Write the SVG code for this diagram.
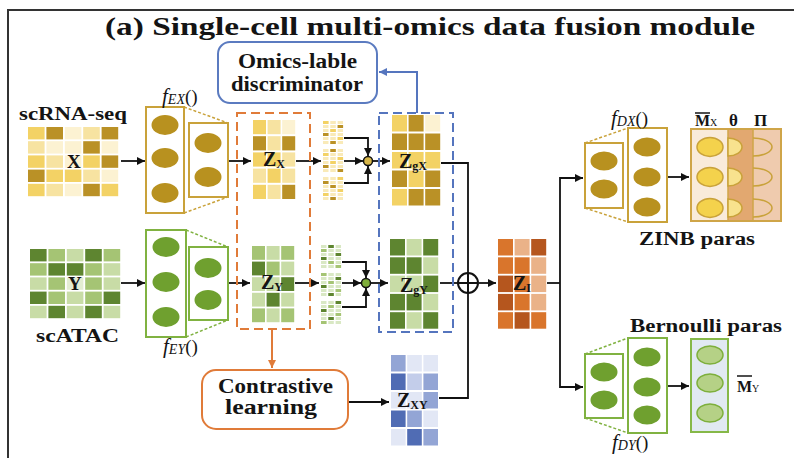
<svg xmlns="http://www.w3.org/2000/svg" width="794" height="458" viewBox="0 0 794 458">
<defs>
<style>
.t{font-family:"Liberation Serif","Times New Roman",serif;font-weight:bold;fill:#141414}
.fn{font-family:"Liberation Serif","Times New Roman",serif;fill:#141414}
.it{font-style:italic}
.sub{font-size:12px}
.zl{font-size:20px}
.c{fill:none;stroke:#111;stroke-width:1.8}
.ca{fill:none;stroke:#111;stroke-width:1.8;marker-end:url(#ah)}
.y1{fill:#FCF2D2}.y2{fill:#F7E3A1}.y3{fill:#F3D265}.y4{fill:#BA9126}
.g1{fill:#E3EDD2}.g2{fill:#C8DCA6}.g3{fill:#A5C474}.g4{fill:#5E8530}
.b1{fill:#E2E7F5}.b2{fill:#C3CDEA}.b3{fill:#93A5D5}.b4{fill:#506CB4}
.o1{fill:#EAB288}.o2{fill:#D9752C}.o3{fill:#B5561E}
.boxY{fill:#fff;stroke:#C9A23A;stroke-width:2}
.boxG{fill:#fff;stroke:#80B241;stroke-width:2}
.dY{stroke:#C9A23A;stroke-width:1.5;stroke-dasharray:3 2;fill:none}
.dG{stroke:#80B241;stroke-width:1.5;stroke-dasharray:3 2;fill:none}
.eY{fill:#B8911F}
.eG{fill:#6FA02F}
.frame{fill:none;stroke:#333;stroke-width:2}
</style>
<marker id="ah" viewBox="0 0 10 10" refX="10" refY="5" markerWidth="9" markerHeight="8" markerUnits="userSpaceOnUse" orient="auto"><path d="M0,0 L10,5 L0,10 z" fill="#111"/></marker>
<marker id="aho" viewBox="0 0 10 10" refX="10" refY="5" markerWidth="9" markerHeight="8" markerUnits="userSpaceOnUse" orient="auto"><path d="M0,0 L10,5 L0,10 z" fill="#E07B39"/></marker>
<marker id="ahb" viewBox="0 0 10 10" refX="10" refY="5" markerWidth="9" markerHeight="8" markerUnits="userSpaceOnUse" orient="auto"><path d="M0,0 L10,5 L0,10 z" fill="#5575BE"/></marker>
<pattern id="pX" x="323" y="121" width="7.3" height="4" patternUnits="userSpaceOnUse"><rect width="5.5" height="3" fill="#F9EAB8"/></pattern>
<pattern id="pY" x="321" y="245" width="7.3" height="4" patternUnits="userSpaceOnUse"><rect width="5.5" height="3" fill="#D9E8C4"/></pattern>
</defs>

<rect width="794" height="458" fill="#fff"/>
<path class="frame" d="M8,458 V10 H794"/>
<text class="t" x="105" y="35" font-size="25" textLength="650" lengthAdjust="spacingAndGlyphs">(a) Single-cell multi-omics data fusion module</text>

<g id="connectors">
<path class="ca" d="M121,161 H145"/>
<path class="ca" d="M228,161 H251"/>
<path class="ca" d="M296,161 H321"/>
<path class="ca" d="M344,138 H368 V156"/>
<path class="ca" d="M344,161 H363"/>
<path class="ca" d="M344,183 H368 V166"/>
<path class="ca" d="M372,161 H390"/>
<path class="c" d="M441,163 H468 V398 H439"/>
<path class="c" d="M440,283 H458"/>
<path class="ca" d="M479,283 H496"/>
<path class="c" d="M547,283 H560"/>
<path class="ca" d="M560,283 V178 H583"/>
<path class="ca" d="M560,283 V387 H583"/>
<path class="ca" d="M667,177 H689"/>
<path class="ca" d="M667,386 H689"/>
<path class="ca" d="M121,283 H145"/>
<path class="ca" d="M228,283 H250"/>
<path class="ca" d="M295,283 H319"/>
<path class="ca" d="M342,262 H366 V278"/>
<path class="ca" d="M342,283 H361"/>
<path class="ca" d="M342,307 H366 V288"/>
<path class="ca" d="M370,283 H388"/>
<path d="M272,329 V368" fill="none" stroke="#E07B39" stroke-width="2" marker-end="url(#aho)"/>
<path class="ca" d="M348,402 H389"/>
<path d="M417,113 V72 H379" fill="none" stroke="#5575BE" stroke-width="2" marker-end="url(#ahb)"/>
</g>

<g id="discriminator">
<rect x="218" y="42" width="159" height="61" rx="12" fill="#fff" stroke="#5B7BC0" stroke-width="2"/>
<text class="t" x="238" y="68" font-size="20" textLength="119" lengthAdjust="spacingAndGlyphs">Omics-lable</text>
<text class="t" x="231" y="91" font-size="20" textLength="132" lengthAdjust="spacingAndGlyphs">discriminator</text>
</g>

<g id="scRNA">
<text class="t" x="19" y="120" font-size="18" textLength="108" lengthAdjust="spacingAndGlyphs">scRNA-seq</text>
<g transform="translate(28,127)">
<rect class="y3" x="0" y="0" width="16.6" height="12.4"/><rect class="y4" x="18.4" y="0" width="16.6" height="12.4"/><rect class="y1" x="36.8" y="0" width="16.6" height="12.4"/><rect class="y2" x="55.2" y="0" width="16.6" height="12.4"/><rect class="y4" x="73.6" y="0" width="16.6" height="12.4"/>
<rect class="y2" x="0" y="14.2" width="16.6" height="12.4"/><rect class="y1" x="18.4" y="14.2" width="16.6" height="12.4"/><rect class="y1" x="36.8" y="14.2" width="16.6" height="12.4"/><rect class="y4" x="55.2" y="14.2" width="16.6" height="12.4"/><rect class="y1" x="73.6" y="14.2" width="16.6" height="12.4"/>
<rect class="y3" x="0" y="28.4" width="16.6" height="12.4"/><rect class="y2" x="18.4" y="28.4" width="16.6" height="12.4"/><rect class="y1" x="36.8" y="28.4" width="16.6" height="12.4"/><rect class="y3" x="55.2" y="28.4" width="16.6" height="12.4"/><rect class="y4" x="73.6" y="28.4" width="16.6" height="12.4"/>
<rect class="y4" x="0" y="42.6" width="16.6" height="12.4"/><rect class="y3" x="18.4" y="42.6" width="16.6" height="12.4"/><rect class="y3" x="36.8" y="42.6" width="16.6" height="12.4"/><rect class="y2" x="55.2" y="42.6" width="16.6" height="12.4"/><rect class="y1" x="73.6" y="42.6" width="16.6" height="12.4"/>
<rect class="y3" x="0" y="56.8" width="16.6" height="12.4"/><rect class="y2" x="18.4" y="56.8" width="16.6" height="12.4"/><rect class="y1" x="36.8" y="56.8" width="16.6" height="12.4"/><rect class="y4" x="55.2" y="56.8" width="16.6" height="12.4"/><rect class="y3" x="73.6" y="56.8" width="16.6" height="12.4"/>
</g>
<text class="t" x="67" y="168" font-size="19">X</text>
</g>

<g id="scATAC">
<g transform="translate(30,249)">
<rect class="g4" x="0" y="0" width="16.6" height="12.4"/><rect class="g3" x="18.4" y="0" width="16.6" height="12.4"/><rect class="g2" x="36.8" y="0" width="16.6" height="12.4"/><rect class="g4" x="55.2" y="0" width="16.6" height="12.4"/><rect class="g3" x="73.6" y="0" width="16.6" height="12.4"/>
<rect class="g3" x="0" y="14.2" width="16.6" height="12.4"/><rect class="g4" x="18.4" y="14.2" width="16.6" height="12.4"/><rect class="g4" x="36.8" y="14.2" width="16.6" height="12.4"/><rect class="g3" x="55.2" y="14.2" width="16.6" height="12.4"/><rect class="g2" x="73.6" y="14.2" width="16.6" height="12.4"/>
<rect class="g2" x="0" y="28.4" width="16.6" height="12.4"/><rect class="g3" x="18.4" y="28.4" width="16.6" height="12.4"/><rect class="g1" x="36.8" y="28.4" width="16.6" height="12.4"/><rect class="g3" x="55.2" y="28.4" width="16.6" height="12.4"/><rect class="g2" x="73.6" y="28.4" width="16.6" height="12.4"/>
<rect class="g4" x="0" y="42.6" width="16.6" height="12.4"/><rect class="g3" x="18.4" y="42.6" width="16.6" height="12.4"/><rect class="g2" x="36.8" y="42.6" width="16.6" height="12.4"/><rect class="g3" x="55.2" y="42.6" width="16.6" height="12.4"/><rect class="g4" x="73.6" y="42.6" width="16.6" height="12.4"/>
<rect class="g2" x="0" y="56.8" width="16.6" height="12.4"/><rect class="g4" x="18.4" y="56.8" width="16.6" height="12.4"/><rect class="g2" x="36.8" y="56.8" width="16.6" height="12.4"/><rect class="g4" x="55.2" y="56.8" width="16.6" height="12.4"/><rect class="g2" x="73.6" y="56.8" width="16.6" height="12.4"/>
</g>
<text class="t" x="68" y="290" font-size="19">Y</text>
<text class="t" x="36" y="342" font-size="18" textLength="83" lengthAdjust="spacingAndGlyphs">scATAC</text>
</g>

<g id="encoderX">
<rect class="boxY" x="146" y="107" width="38" height="106"/>
<ellipse class="eY" cx="165" cy="125" rx="13.5" ry="10"/><ellipse class="eY" cx="165" cy="158" rx="13.5" ry="10"/><ellipse class="eY" cx="165" cy="193" rx="13.5" ry="10"/>
<rect class="boxY" x="189" y="123" width="39" height="74"/>
<ellipse class="eY" cx="208" cy="143" rx="13.5" ry="10"/><ellipse class="eY" cx="208" cy="177" rx="13.5" ry="10"/>
<path class="dY" d="M184,107 L228,123 M184,213 L228,197"/>
<text class="fn" x="162" y="103"><tspan class="it" font-size="21">f</tspan><tspan class="it" font-size="14" dy="1">EX</tspan><tspan font-size="19" dy="-1">()</tspan></text>
</g>

<g id="encoderY">
<rect class="boxG" x="146" y="230" width="40" height="107"/>
<ellipse class="eG" cx="166" cy="247" rx="13.5" ry="10"/><ellipse class="eG" cx="166" cy="282" rx="13.5" ry="10"/><ellipse class="eG" cx="166" cy="317" rx="13.5" ry="10"/>
<rect class="boxG" x="189" y="247" width="39" height="73"/>
<ellipse class="eG" cx="208" cy="268" rx="13.5" ry="10"/><ellipse class="eG" cx="208" cy="300" rx="13.5" ry="10"/>
<path class="dG" d="M186,230 L228,247 M186,337 L228,320"/>
<text class="fn" x="163" y="353"><tspan class="it" font-size="21">f</tspan><tspan class="it" font-size="14" dy="1">EY</tspan><tspan font-size="19" dy="-1">()</tspan></text>
</g>

<g id="orangeGroup">
<rect x="237" y="113" width="73" height="216" fill="none" stroke="#E07B39" stroke-width="2" stroke-dasharray="9 5"/>
</g>

<g id="ZX">
<g transform="translate(253,120)">
<rect class="y3" x="0" y="0" width="13" height="14.2"/><rect class="y2" x="14.6" y="0" width="13" height="14.2"/><rect class="y1" x="29.2" y="0" width="13" height="14.2"/>
<rect class="y4" x="0" y="16.2" width="13" height="14.2"/><rect class="y2" x="14.6" y="16.2" width="13" height="14.2"/><rect class="y4" x="29.2" y="16.2" width="13" height="14.2"/>
<rect class="y3" x="0" y="32.4" width="13" height="14.2"/><rect class="y3" x="14.6" y="32.4" width="13" height="14.2"/><rect class="y2" x="29.2" y="32.4" width="13" height="14.2"/>
<rect class="y2" x="0" y="48.6" width="13" height="14.2"/><rect class="y3" x="14.6" y="48.6" width="13" height="14.2"/><rect class="y2" x="29.2" y="48.6" width="13" height="14.2"/>
<rect class="y3" x="0" y="64.8" width="13" height="14.2"/><rect class="y2" x="14.6" y="64.8" width="13" height="14.2"/><rect class="y4" x="29.2" y="64.8" width="13" height="14.2"/>
</g>
<text class="t zl" x="263" y="166">Z<tspan class="sub" dy="2">X</tspan></text>
</g>

<g id="ZY">
<g transform="translate(252,246)">
<rect class="g3" x="0" y="0" width="13" height="13.8"/><rect class="g2" x="14.6" y="0" width="13" height="13.8"/><rect class="g3" x="29.2" y="0" width="13" height="13.8"/>
<rect class="g4" x="0" y="15.6" width="13" height="13.8"/><rect class="g3" x="14.6" y="15.6" width="13" height="13.8"/><rect class="g2" x="29.2" y="15.6" width="13" height="13.8"/>
<rect class="g2" x="0" y="31.2" width="13" height="13.8"/><rect class="g2" x="14.6" y="31.2" width="13" height="13.8"/><rect class="g4" x="29.2" y="31.2" width="13" height="13.8"/>
<rect class="g2" x="0" y="46.8" width="13" height="13.8"/><rect class="g4" x="14.6" y="46.8" width="13" height="13.8"/><rect class="g2" x="29.2" y="46.8" width="13" height="13.8"/>
<rect class="g3" x="0" y="62.4" width="13" height="13.8"/><rect class="g2" x="14.6" y="62.4" width="13" height="13.8"/><rect class="g3" x="29.2" y="62.4" width="13" height="13.8"/>
</g>
<text class="t zl" x="261" y="289">Z<tspan class="sub" dy="2">Y</tspan></text>
</g>

<g id="stripesX">
<rect x="323" y="121" width="20.2" height="24" fill="url(#pX)"/><rect x="323" y="149" width="20.2" height="24" fill="url(#pX)"/><rect x="323" y="177" width="20.2" height="24" fill="url(#pX)"/>
<rect class="y3" x="323" y="121" width="5.5" height="3"/><rect class="y4" x="337.6" y="125" width="5.5" height="3"/><rect class="y3" x="330.3" y="129" width="5.5" height="3"/><rect class="y4" x="323" y="133" width="5.5" height="3"/><rect class="y3" x="337.6" y="137" width="5.5" height="3"/><rect class="y4" x="330.3" y="141" width="5.5" height="3"/>
<rect class="y4" x="330.3" y="149" width="5.5" height="3"/><rect class="y3" x="323" y="153" width="5.5" height="3"/><rect class="y3" x="337.6" y="157" width="5.5" height="3"/><rect class="y3" x="330.3" y="161" width="5.5" height="3"/><rect class="y4" x="323" y="165" width="5.5" height="3"/><rect class="y4" x="337.6" y="169" width="5.5" height="3"/>
<rect class="y3" x="337.6" y="177" width="5.5" height="3"/><rect class="y4" x="323" y="181" width="5.5" height="3"/><rect class="y4" x="330.3" y="185" width="5.5" height="3"/><rect class="y3" x="337.6" y="189" width="5.5" height="3"/><rect class="y3" x="323" y="193" width="5.5" height="3"/><rect class="y4" x="330.3" y="197" width="5.5" height="3"/>
</g>

<g id="stripesY">
<rect x="321" y="245" width="20.2" height="24" fill="url(#pY)"/><rect x="321" y="273" width="20.2" height="24" fill="url(#pY)"/><rect x="321" y="301" width="20.2" height="24" fill="url(#pY)"/>
<rect class="g4" x="328.3" y="245" width="5.5" height="3"/><rect class="g3" x="321" y="249" width="5.5" height="3"/><rect class="g4" x="335.6" y="253" width="5.5" height="3"/><rect class="g4" x="321" y="257" width="5.5" height="3"/><rect class="g3" x="328.3" y="261" width="5.5" height="3"/><rect class="g3" x="335.6" y="265" width="5.5" height="3"/>
<rect class="g3" x="321" y="273" width="5.5" height="3"/><rect class="g4" x="335.6" y="277" width="5.5" height="3"/><rect class="g3" x="328.3" y="281" width="5.5" height="3"/><rect class="g4" x="321" y="285" width="5.5" height="3"/><rect class="g3" x="335.6" y="289" width="5.5" height="3"/><rect class="g4" x="328.3" y="293" width="5.5" height="3"/>
<rect class="g4" x="335.6" y="301" width="5.5" height="3"/><rect class="g3" x="328.3" y="305" width="5.5" height="3"/><rect class="g4" x="321" y="309" width="5.5" height="3"/><rect class="g3" x="335.6" y="313" width="5.5" height="3"/><rect class="g4" x="328.3" y="317" width="5.5" height="3"/><rect class="g3" x="321" y="321" width="5.5" height="3"/>
</g>

<g id="gateX"><circle cx="368" cy="161" r="4.5" fill="#D9B84A" stroke="#111" stroke-width="1.5"/></g>
<g id="gateY"><circle cx="366" cy="283" r="4.5" fill="#7FAE3A" stroke="#111" stroke-width="1.5"/></g>

<g id="blueGroup">
<rect x="379" y="113" width="74" height="219" fill="none" stroke="#5575BE" stroke-width="2" stroke-dasharray="9 5"/>
</g>

<g id="ZgX">
<g transform="translate(392,115)">
<rect class="y3" x="0" y="0" width="15" height="16.5"/><rect class="y4" x="16.6" y="0" width="15" height="16.5"/><rect class="y1" x="33.2" y="0" width="15" height="16.5"/>
<rect class="y4" x="0" y="18.5" width="15" height="16.5"/><rect class="y4" x="16.6" y="18.5" width="15" height="16.5"/><rect class="y4" x="33.2" y="18.5" width="15" height="16.5"/>
<rect class="y3" x="0" y="37" width="15" height="16.5"/><rect class="y3" x="16.6" y="37" width="15" height="16.5"/><rect class="y3" x="33.2" y="37" width="15" height="16.5"/>
<rect class="y4" x="0" y="55.5" width="15" height="16.5"/><rect class="y3" x="16.6" y="55.5" width="15" height="16.5"/><rect class="y4" x="33.2" y="55.5" width="15" height="16.5"/>
<rect class="y3" x="0" y="74" width="15" height="16.5"/><rect class="y4" x="16.6" y="74" width="15" height="16.5"/><rect class="y4" x="33.2" y="74" width="15" height="16.5"/>
</g>
<text class="t zl" x="399" y="168">Z<tspan class="sub" dy="2">gX</tspan></text>
</g>

<g id="ZgY">
<g transform="translate(390,239)">
<rect class="g4" x="0" y="0" width="15" height="16.5"/><rect class="g2" x="16.6" y="0" width="15" height="16.5"/><rect class="g4" x="33.2" y="0" width="15" height="16.5"/>
<rect class="g4" x="0" y="18.3" width="15" height="16.5"/><rect class="g4" x="16.6" y="18.3" width="15" height="16.5"/><rect class="g2" x="33.2" y="18.3" width="15" height="16.5"/>
<rect class="g2" x="0" y="36.6" width="15" height="16.5"/><rect class="g2" x="16.6" y="36.6" width="15" height="16.5"/><rect class="g4" x="33.2" y="36.6" width="15" height="16.5"/>
<rect class="g4" x="0" y="54.9" width="15" height="16.5"/><rect class="g4" x="16.6" y="54.9" width="15" height="16.5"/><rect class="g2" x="33.2" y="54.9" width="15" height="16.5"/>
<rect class="g4" x="0" y="73.2" width="15" height="16.5"/><rect class="g2" x="16.6" y="73.2" width="15" height="16.5"/><rect class="g4" x="33.2" y="73.2" width="15" height="16.5"/>
</g>
<text class="t zl" x="400" y="292">Z<tspan class="sub" dy="2">gY</tspan></text>
</g>

<g id="contrastive">
<rect x="202" y="370" width="146" height="59" rx="14" fill="#fff" stroke="#E07B39" stroke-width="2"/>
<text class="t" x="218" y="393" font-size="20" textLength="115" lengthAdjust="spacingAndGlyphs">Contrastive</text>
<text class="t" x="225" y="414" font-size="20" textLength="92" lengthAdjust="spacingAndGlyphs">learning</text>
</g>

<g id="ZXY">
<g transform="translate(391,355)">
<rect class="b3" x="0" y="0" width="14.6" height="16.5"/><rect class="b1" x="16.2" y="0" width="14.6" height="16.5"/><rect class="b1" x="32.4" y="0" width="14.6" height="16.5"/>
<rect class="b4" x="0" y="18.5" width="14.6" height="16.5"/><rect class="b2" x="16.2" y="18.5" width="14.6" height="16.5"/><rect class="b3" x="32.4" y="18.5" width="14.6" height="16.5"/>
<rect class="b1" x="0" y="37" width="14.6" height="16.5"/><rect class="b1" x="16.2" y="37" width="14.6" height="16.5"/><rect class="b3" x="32.4" y="37" width="14.6" height="16.5"/>
<rect class="b4" x="0" y="55.5" width="14.6" height="16.5"/><rect class="b3" x="16.2" y="55.5" width="14.6" height="16.5"/><rect class="b1" x="32.4" y="55.5" width="14.6" height="16.5"/>
<rect class="b1" x="0" y="74" width="14.6" height="16.5"/><rect class="b4" x="16.2" y="74" width="14.6" height="16.5"/><rect class="b3" x="32.4" y="74" width="14.6" height="16.5"/>
</g>
<text class="t zl" x="397" y="407">Z<tspan class="sub" dy="2">XY</tspan></text>
</g>

<g id="fusion">
<circle cx="468" cy="283" r="10" fill="#fff" stroke="#111" stroke-width="2"/>
<path d="M458,283 H478 M468,273 V293" stroke="#111" stroke-width="2"/>
</g>

<g id="ZI">
<g transform="translate(498,239)">
<rect class="o2" x="0" y="0" width="15" height="16.5"/><rect class="o1" x="16.6" y="0" width="15" height="16.5"/><rect class="o3" x="33.2" y="0" width="15" height="16.5"/>
<rect class="o2" x="0" y="18.3" width="15" height="16.5"/><rect class="o2" x="16.6" y="18.3" width="15" height="16.5"/><rect class="o1" x="33.2" y="18.3" width="15" height="16.5"/>
<rect class="o3" x="0" y="36.6" width="15" height="16.5"/><rect class="o2" x="16.6" y="36.6" width="15" height="16.5"/><rect class="o1" x="33.2" y="36.6" width="15" height="16.5"/>
<rect class="o3" x="0" y="54.9" width="15" height="16.5"/><rect class="o2" x="16.6" y="54.9" width="15" height="16.5"/><rect class="o1" x="33.2" y="54.9" width="15" height="16.5"/>
<rect class="o2" x="0" y="73.2" width="15" height="16.5"/><rect class="o3" x="16.6" y="73.2" width="15" height="16.5"/><rect class="o2" x="33.2" y="73.2" width="15" height="16.5"/>
</g>
<text class="t zl" x="513" y="290">Z<tspan class="sub" dy="2">I</tspan></text>
</g>

<g id="decoderX">
<rect class="boxY" x="585" y="143" width="38" height="65"/>
<ellipse class="eY" cx="604" cy="161" rx="13.5" ry="9.5"/><ellipse class="eY" cx="604" cy="189" rx="13.5" ry="9.5"/>
<rect class="boxY" x="628" y="128" width="39" height="94"/>
<ellipse class="eY" cx="647" cy="147" rx="13.5" ry="9.5"/><ellipse class="eY" cx="647" cy="177" rx="13.5" ry="9.5"/><ellipse class="eY" cx="647" cy="207" rx="13.5" ry="9.5"/>
<path class="dY" d="M585,143 L628,128 M585,208 L628,222"/>
<text class="fn" x="611" y="125"><tspan class="it" font-size="21">f</tspan><tspan class="it" font-size="14" dy="1">DX</tspan><tspan font-size="19" dy="-1">()</tspan></text>
</g>

<g id="zinb">
<rect x="691" y="129" width="37" height="92" fill="#F9EBDA"/>
<rect x="728" y="129" width="25" height="92" fill="#E2A870"/>
<rect x="753" y="129" width="28" height="92" fill="#EFCBAE"/>
<rect x="691" y="129" width="90" height="92" fill="none" stroke="#CFA548" stroke-width="2"/>
<path d="M728,129 V221 M753,129 V221" stroke="#CFA548" stroke-width="1.5"/>
<g fill="#F4D24C" stroke="#C9A23A" stroke-width="1.5">
<ellipse cx="710" cy="147" rx="13" ry="9.5"/><ellipse cx="710" cy="177" rx="13" ry="9.5"/><ellipse cx="710" cy="208" rx="13" ry="9.5"/>
</g>
<g fill="#F8E28E" stroke="#C9A23A" stroke-width="1.5">
<path d="M728,138 A14,9 0 0 1 728,156 Z"/><path d="M728,168 A14,9 0 0 1 728,186 Z"/><path d="M728,199 A14,9 0 0 1 728,217 Z"/>
</g>
<g fill="none" stroke="#C9A23A" stroke-width="1.5">
<path d="M753,138 A19,9 0 0 1 753,156"/><path d="M753,168 A19,9 0 0 1 753,186"/><path d="M753,199 A19,9 0 0 1 753,217"/>
</g>
<line x1="695" y1="113" x2="710" y2="113" stroke="#141414" stroke-width="1.5"/>
<text class="t" x="695" y="126" font-size="16">M<tspan font-size="10" font-weight="normal">X</tspan></text>
<text class="t" x="729" y="126" font-size="17">θ</text>
<text class="t" x="754" y="126" font-size="17">Π</text>
<text class="t" x="639" y="245" font-size="18" textLength="116" lengthAdjust="spacingAndGlyphs">ZINB paras</text>
</g>

<g id="decoderY">
<rect class="boxG" x="585" y="354" width="38" height="64"/>
<ellipse class="eG" cx="604" cy="372" rx="13.5" ry="9.5"/><ellipse class="eG" cx="604" cy="400" rx="13.5" ry="9.5"/>
<rect class="boxG" x="628" y="338" width="39" height="95"/>
<ellipse class="eG" cx="647" cy="357" rx="13.5" ry="9.5"/><ellipse class="eG" cx="647" cy="387" rx="13.5" ry="9.5"/><ellipse class="eG" cx="647" cy="415" rx="13.5" ry="9.5"/>
<path class="dG" d="M585,354 L628,338 M585,418 L628,433"/>
<text class="fn" x="612" y="449"><tspan class="it" font-size="21">f</tspan><tspan class="it" font-size="14" dy="1">DY</tspan><tspan font-size="19" dy="-1">()</tspan></text>
</g>

<g id="bernoulli">
<text class="t" x="630" y="332" font-size="18" textLength="152" lengthAdjust="spacingAndGlyphs">Bernoulli paras</text>
<rect x="691" y="339" width="37" height="93" fill="#E1E9F2" stroke="#86B848" stroke-width="2"/>
<g fill="#B5D186" stroke="#7DAF3B" stroke-width="1.5">
<ellipse cx="710" cy="355" rx="13" ry="9"/><ellipse cx="710" cy="383" rx="13" ry="9"/><ellipse cx="710" cy="413" rx="13" ry="9"/>
</g>
<line x1="737" y1="376" x2="752" y2="376" stroke="#141414" stroke-width="1.5"/>
<text class="t" x="737" y="392" font-size="16">M<tspan font-size="10" font-weight="normal">Y</tspan></text>
</g>
</svg>
